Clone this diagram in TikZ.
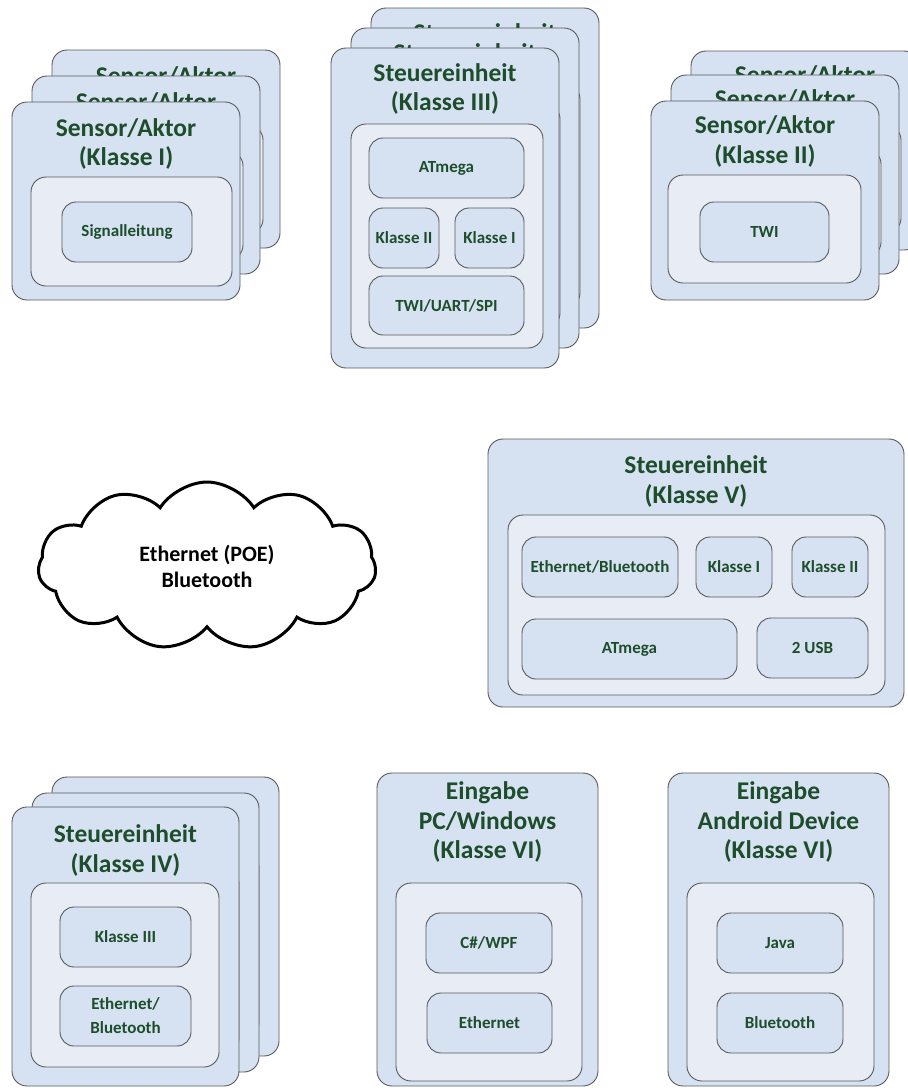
\documentclass[tikz,border=0pt]{standalone}
\usepackage{fontspec}
\setmainfont{Carlito}
\usetikzlibrary{shapes.symbols}
\definecolor{tgreen}{HTML}{1E4D2B}
\definecolor{cardfill}{HTML}{D6E2F2}
\definecolor{panelfill}{HTML}{E8EDF5}
\definecolor{edgegray}{HTML}{595959}
\newcommand\ttlfont{\bfseries\fontsize{25.5}{29.5}\selectfont}
\newcommand\itmfont{\bfseries\fontsize{17}{24}\selectfont}
% rounded box given by its corners: style, name, x1, y1, x2, y2, text
\newcommand\rbox[7]{%
  \pgfmathsetmacro\rbcx{(#3+#5)/2}%
  \pgfmathsetmacro\rbcy{(#4+#6)/2}%
  \pgfmathsetmacro\rbw{#5-#3}%
  \pgfmathsetmacro\rbh{#6-#4}%
  \node[#1,minimum width=\rbw pt,minimum height=\rbh pt] (#2) at (\rbcx,\rbcy) {#7};}
% how much narrower the inner panel of a stacked copy is
\def\pnlcut{0}
\tikzset{
  card/.style={draw=edgegray, fill=cardfill, line width=0.9pt, rounded corners=15pt, inner sep=0pt, outer sep=0pt},
  panel/.style={draw=edgegray, fill=panelfill, line width=0.9pt, rounded corners=15pt, inner sep=0pt, outer sep=0pt},
  item/.style={draw=edgegray, fill=cardfill, line width=0.9pt, rounded corners=14pt, inner sep=0pt, outer sep=0pt,
    font=\itmfont, text=tgreen, align=center},
  title/.style={font=\ttlfont, text=tgreen, align=center, inner sep=0pt},
  sensorI/.pic={
    \rbox{card}{box}{12}{102}{240}{300}{}
    \node[title] (title) at (126,144) {Sensor/Aktor\\(Klasse I)};
    \rbox{panel}{panel}{31}{177}{232-\pnlcut}{286}{}
    \rbox{item}{sig}{62}{202}{192}{262}{Signalleitung}
  },
  ctrlIII/.pic={
    \rbox{card}{box}{331}{48}{559}{368}{}
    \node[title] (title) at (445,89) {Steuereinheit\\(Klasse III)};
    \rbox{panel}{panel}{351}{124}{543-\pnlcut}{348}{}
    \rbox{item}{atmega}{369}{138}{524}{198}{ATmega}
    \rbox{item}{k2}{369}{208}{439}{268}{Klasse II}
    \rbox{item}{k1}{455}{208}{524}{268}{Klasse I}
    \rbox{item}{bus}{369}{276}{524}{335}{TWI/UART/SPI}
  },
  sensorII/.pic={
    \rbox{card}{box}{651}{101}{879}{300}{}
    \node[title] (title) at (765,141.5) {Sensor/Aktor\\(Klasse II)};
    \rbox{panel}{panel}{668}{175}{861-\pnlcut}{283}{}
    \rbox{item}{twi}{700}{202}{829}{262}{TWI}
  },
  ctrlIV/.pic={
    \rbox{card}{box}{12}{807}{239}{1086}{}
    \node[title] (title) at (125.5,850.5) {Steuereinheit\\(Klasse IV)};
    \rbox{panel}{panel}{31}{883}{219-\pnlcut}{1067}{}
    \rbox{item}{k3}{60}{907}{191}{967}{Klasse III}
    \rbox{item}{net}{60}{986}{191}{1046}{Ethernet/\\Bluetooth}
  },
}
\begin{document}
\begin{tikzpicture}[x=1pt,y=-1pt]
  \useasboundingbox (0,0) rectangle (908,1088);

  % sensor/actor class I, stacked
  \def\pnlcut{9}
  \pic (sAback) at (40,-52) {sensorI};
  \pic (sAmid) at (20,-26) {sensorI};
  \def\pnlcut{0}
  \pic (sA) at (0,0) {sensorI};

  % control unit class III, stacked
  \def\pnlcut{3}
  \pic (cIIIback) at (40,-40) {ctrlIII};
  \pic (cIIImid) at (20,-20) {ctrlIII};
  \def\pnlcut{0}
  \pic (cIII) at (0,0) {ctrlIII};

  % sensor/actor class II, stacked
  \pic (sBback) at (40,-50) {sensorII};
  \pic (sBmid) at (20,-26) {sensorII};
  \pic (sB) at (0,0) {sensorII};

  % network cloud
  \node[cloud, cloud puffs=11, cloud puff arc=115, cloud ignores aspect, draw=black, fill=white,
        line width=3pt, minimum width=338pt, minimum height=168pt, inner sep=0pt,
        align=center, font=\bfseries\fontsize{22}{26}\selectfont] (net) at (207,566)
        {Ethernet (POE)\\Bluetooth};

  % control unit class V
  \rbox{card}{cV}{488}{439}{904}{707}{}
  \node[title] (cVtitle) at (696,481.5) {Steuereinheit\\(Klasse V)};
  \rbox{panel}{cVpanel}{508}{515}{885}{695}{}
  \rbox{item}{cVnet}{522}{537}{678}{597}{Ethernet/Bluetooth}
  \rbox{item}{cVk1}{696}{537}{772}{597}{Klasse I}
  \rbox{item}{cVk2}{792}{537}{868}{597}{Klasse II}
  \rbox{item}{cVatmega}{522}{619}{737}{679}{ATmega}
  \rbox{item}{cVusb}{757}{618}{868}{678}{2 USB}

  % control unit class IV, stacked
  \pic (cIVback) at (40,-30) {ctrlIV};
  \pic (cIVmid) at (20,-14) {ctrlIV};
  \pic (cIV) at (0,0) {ctrlIV};

  % input: PC / Windows
  \rbox{card}{pc}{377}{773}{598}{1086}{}
  \node[title] (pctitle) at (487.5,822) {Eingabe\\PC/Windows\\(Klasse VI)};
  \rbox{panel}{pcpanel}{396}{883}{582}{1081}{}
  \rbox{item}{pcwpf}{426}{913}{552}{973}{C\#/WPF}
  \rbox{item}{pceth}{427}{993}{552}{1053}{Ethernet}

  % input: Android device
  \rbox{card}{and}{668}{773}{889}{1086}{}
  \node[title] (andtitle) at (778.5,822) {Eingabe\\Android Device\\(Klasse VI)};
  \rbox{panel}{andpanel}{687}{883}{874}{1081}{}
  \rbox{item}{andjava}{717}{913}{843}{973}{Java}
  \rbox{item}{andbt}{717}{993}{843}{1053}{Bluetooth}
\end{tikzpicture}
\end{document}
